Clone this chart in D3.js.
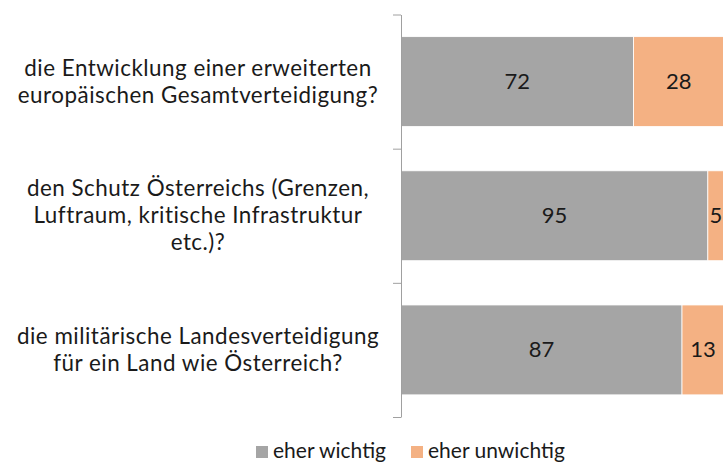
<!DOCTYPE html>
<html>
<head>
<meta charset="utf-8">
<script src="https://cdn.jsdelivr.net/npm/d3@7"></script>
<style>
  body { margin: 0; background: #fff; }
  text { font-family: Lato, "Open Sans", sans-serif; fill: #1a1a1a; }
</style>
</head>
<body>
<div id="chart"></div>
<script>
// questions, top to bottom (line breaks as in the original)
const questions = ['q1', 'q2', 'q3'];
const questionLines = [
  ['die Entwicklung einer erweiterten', 'europäischen Gesamtverteidigung?'],
  ['den Schutz Österreichs (Grenzen,', 'Luftraum, kritische Infrastruktur', 'etc.)?'],
  ['die militärische Landesverteidigung', 'für ein Land wie Österreich?'],
];
const seriesNames = ['eher wichtig', 'eher unwichtig'];
const wichtig = [72, 95, 87];
const unwichtig = [28, 5, 13];
const seriesColors = ['#a5a5a5', '#f4b183'];

const width = 723, height = 464;

const svg = d3.select('#chart').append('svg')
    .attr('width', width)
    .attr('height', height);

// scales
const xScale = d3.scaleLinear()
    .domain([0, 100])
    .range([401, 724]);

const yScale = d3.scaleBand()
    .domain(questions)
    .range([14.5, 417])
    .paddingInner(0.33)
    .paddingOuter(0.165);

// build stacked rows
const rows = questions.map((q, i) => ({ q: q, 'eher wichtig': wichtig[i], 'eher unwichtig': unwichtig[i] }));
const stacked = d3.stack().keys(seriesNames)(rows);

const layers = svg.append('g').selectAll('g')
    .data(stacked)
    .join('g')
    .attr('fill', (d, i) => seriesColors[i]);

layers.selectAll('rect')
    .data(d => d)
    .join('rect')
    .attr('x', d => xScale(d[0]))
    .attr('y', d => yScale(d.data.q))
    .attr('width', d => xScale(d[1]) - xScale(d[0]))
    .attr('height', yScale.bandwidth())
    .attr('stroke', '#ffffff')
    .attr('stroke-width', 0.8);

// value labels
layers.selectAll('text')
    .data(d => d)
    .join('text')
    .attr('x', d => (xScale(d[0]) + xScale(d[1])) / 2)
    .attr('y', d => yScale(d.data.q) + yScale.bandwidth() / 2 + 7.5)
    .attr('text-anchor', 'middle')
    .attr('font-size', 22)
    .text(d => d[1] - d[0]);

// axis: line with ticks between the categories
const boundaryScale = d3.scaleLinear()
    .domain([0, questions.length])
    .range(yScale.range());

const yAxisG = svg.append('g')
    .attr('transform', `translate(${xScale(0)},0)`)
    .call(d3.axisLeft(boundaryScale)
      .tickValues(d3.range(questions.length + 1))
      .tickSize(8)
      .tickSizeOuter(0)
      .tickFormat(''));
yAxisG.selectAll('path, line').attr('stroke', '#a0a0a0');

// category labels (centered block)
const labelX = 198;
const lineHeight = 27;
svg.append('g').selectAll('text')
    .data(questions)
    .join('text')
    .attr('text-anchor', 'middle')
    .attr('font-size', 22.4)
    .attr('letter-spacing', 0.5)
    .each(function (q, i) {
      const lines = questionLines[i];
      const cy = yScale(q) + yScale.bandwidth() / 2;
      const firstY = cy - (lines.length - 1) * lineHeight / 2 + 7.5;
      d3.select(this).selectAll('tspan')
          .data(lines)
          .join('tspan')
          .attr('x', labelX)
          .attr('y', (d, j) => firstY + j * lineHeight)
          .text(d => d);
    });

// legend
const legendX = [256, 411];
const legend = svg.append('g').selectAll('g')
    .data(seriesNames)
    .join('g')
    .attr('transform', (d, i) => `translate(${legendX[i]},446)`);

legend.append('rect')
    .attr('width', 12)
    .attr('height', 12)
    .attr('fill', (d, i) => seriesColors[i]);

legend.append('text')
    .attr('x', 17)
    .attr('y', 12)
    .attr('font-size', 21)
    .text(d => d);
</script>
</body>
</html>
